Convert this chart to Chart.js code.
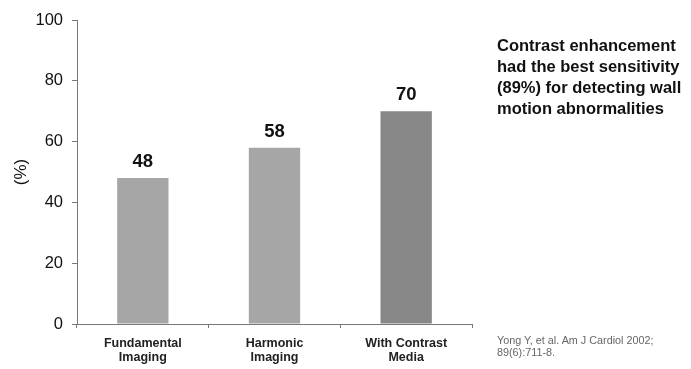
<!DOCTYPE html>
<html>
<head>
<meta charset="utf-8">
<script src="https://cdn.jsdelivr.net/npm/chart.js@4.4.0/dist/chart.umd.min.js"></script>
<style>
  body { margin: 0; background: #fff; }
  #wrap { position: relative; width: 691px; height: 369px; }
  .note { position: absolute; font-family: 'Liberation Sans', Arial, sans-serif; }
  #finding { left: 497px; top: 35px; font-size: 16.5px; font-weight: bold; line-height: 21px; color: #111; white-space: nowrap; }
  #cite { left: 497px; top: 334px; font-size: 10.8px; line-height: 12px; color: #666; white-space: nowrap; }
</style>
</head>
<body>
<div id="wrap">
  <canvas id="chart" width="691" height="369"></canvas>
  <div class="note" id="finding">Contrast enhancement<br>had the best sensitivity<br>(89%) for detecting wall<br>motion abnormalities</div>
  <div class="note" id="cite">Yong Y, et al. Am J Cardiol 2002;<br>89(6):711-8.</div>
</div>
<script>
const categories = [['Fundamental', 'Imaging'], ['Harmonic', 'Imaging'], ['With Contrast', 'Media']];
const sensitivity = [48, 58, 70];
const barColors = ['#a6a6a6', '#a6a6a6', '#878787'];
const yTicks = [0, 20, 40, 60, 80, 100];

// value labels above each bar
const valueLabels = {
    id: 'valueLabels',
    afterDatasetsDraw(chart) {
        const ctx = chart.ctx;
        const meta = chart.getDatasetMeta(0);
        ctx.save();
        ctx.font = 'bold 18.5px "Liberation Sans", Arial, sans-serif';
        ctx.fillStyle = '#111';
        ctx.textAlign = 'center';
        ctx.textBaseline = 'bottom';
        meta.data.forEach((bar, i) => {
            ctx.fillText(String(sensitivity[i]), bar.x, bar.y - 7);
        });
        ctx.restore();
    }
};

new Chart(document.getElementById('chart'), {
    type: 'bar',
    data: {
        labels: categories,
        datasets: [{
            data: sensitivity,
            backgroundColor: barColors,
            borderWidth: 0,
            barPercentage: 0.39,
            categoryPercentage: 1
        }]
    },
    options: {
        responsive: false,
        animation: false,
        layout: { padding: { top: 20, right: 219, left: 0, bottom: 0 } },
        plugins: { legend: { display: false }, tooltip: { enabled: false } },
        scales: {
            x: {
                afterFit: s => { s.height = 45; },
                grid: { drawOnChartArea: false, drawTicks: true, tickLength: 4, color: '#777', offset: true },
                border: { color: '#777', width: 1 },
                ticks: {
                    color: '#222',
                    padding: 8,
                    font: { family: '"Liberation Sans", Arial, sans-serif', size: 12.5, weight: 'bold', lineHeight: 1.15 }
                }
            },
            y: {
                min: 0,
                max: 100,
                afterFit: s => { s.width = 77; },
                afterBuildTicks: s => { s.ticks = yTicks.map(v => ({ value: v })); },
                grid: { drawOnChartArea: false, drawTicks: true, tickLength: 5, color: '#777' },
                border: { color: '#777', width: 1 },
                ticks: {
                    color: '#111',
                    padding: 9,
                    font: { family: '"Liberation Sans", Arial, sans-serif', size: 16.5 }
                },
                title: {
                    display: true,
                    text: '(%)',
                    color: '#111',
                    padding: { top: 11, bottom: 0 },
                    font: { family: '"Liberation Sans", Arial, sans-serif', size: 17 }
                }
            }
        }
    },
    plugins: [valueLabels]
});
</script>
</body>
</html>
